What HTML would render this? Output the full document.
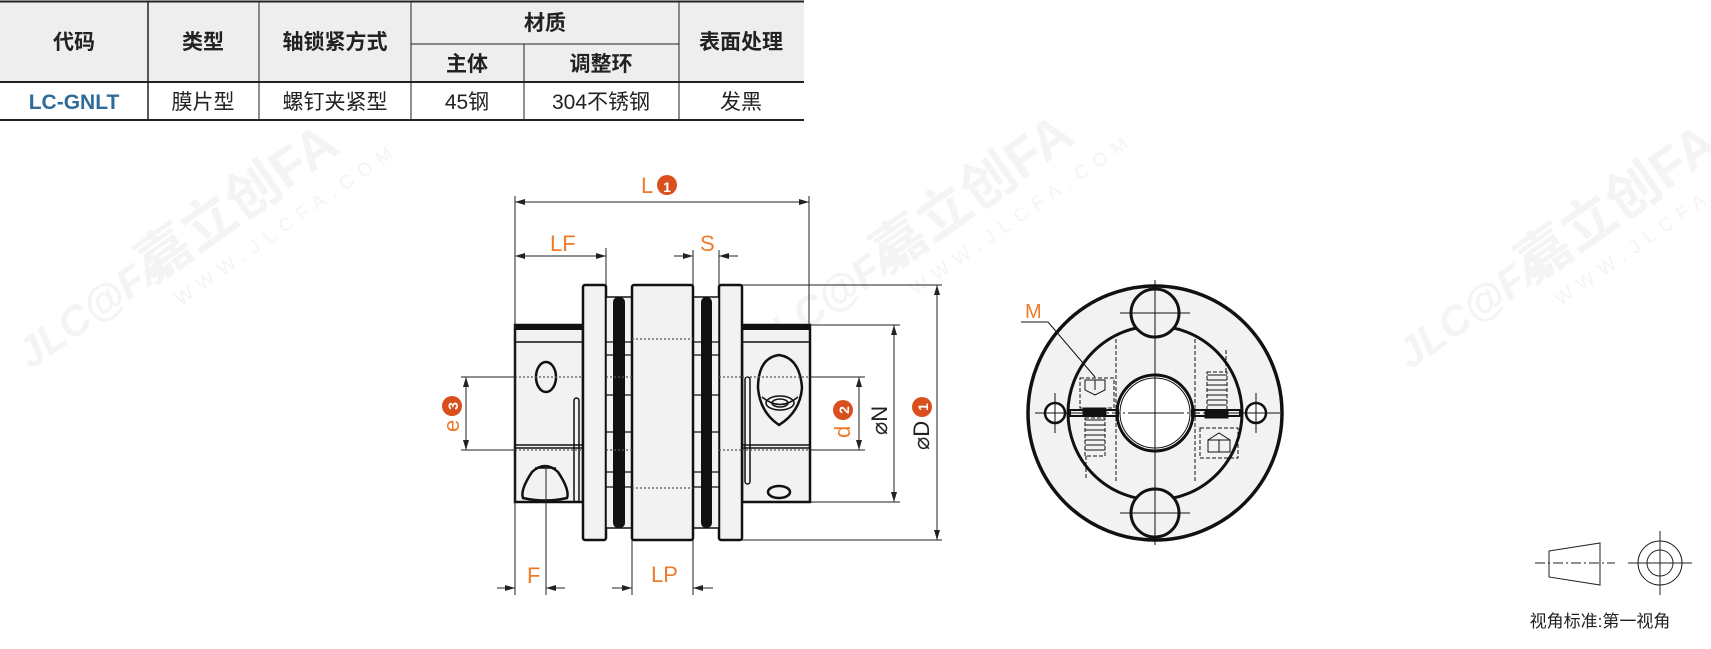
<!DOCTYPE html>
<html><head><meta charset="utf-8"><style>
html,body{margin:0;padding:0;background:#fff;width:1711px;height:649px;overflow:hidden}
svg{display:block}
.t{font-family:"Liberation Sans","Noto Sans CJK SC",sans-serif}
.o{fill:#ee7a2a;font-family:"Liberation Sans",sans-serif}
</style></head><body>
<svg width="1711" height="649" viewBox="0 0 1711 649" xmlns="http://www.w3.org/2000/svg">
<defs>
<marker id="a" viewBox="0 0 10 6" refX="10" refY="3" markerWidth="10" markerHeight="6" orient="auto-start-reverse" markerUnits="userSpaceOnUse"><path d="M0,0 L10,3 L0,6z" fill="#222"/></marker>
</defs>
<!-- watermarks -->
<g fill="#f4f4f4" class="t" font-weight="bold">
<g transform="translate(30,370) rotate(-35)"><text x="0" y="0" font-size="42" font-style="italic">JLC@FA</text><text x="150" y="0" font-size="54">嘉立创FA</text><text x="160" y="34" font-size="19" letter-spacing="8" font-weight="normal">WWW.JLCFA.COM</text></g>
<g transform="translate(765,360) rotate(-35)"><text x="0" y="0" font-size="42" font-style="italic">JLC@FA</text><text x="150" y="0" font-size="54">嘉立创FA</text><text x="160" y="34" font-size="19" letter-spacing="8" font-weight="normal">WWW.JLCFA.COM</text></g>
<g transform="translate(1410,370) rotate(-35)"><text x="0" y="0" font-size="42" font-style="italic">JLC@FA</text><text x="150" y="0" font-size="54">嘉立创FA</text><text x="160" y="34" font-size="19" letter-spacing="8" font-weight="normal">WWW.JLCFA.COM</text></g>
</g>
<!-- table -->
<rect x="0" y="1" width="804" height="81" fill="#eeeeee"/>
<g stroke="#222" fill="none">
<line x1="0" y1="1.5" x2="804" y2="1.5" stroke-width="2"/>
<line x1="0" y1="82" x2="804" y2="82" stroke-width="2"/>
<line x1="0" y1="120" x2="804" y2="120" stroke-width="2"/>
<line x1="411" y1="44" x2="679" y2="44" stroke-width="1"/>
<line x1="148" y1="1" x2="148" y2="120" stroke-width="1.5"/>
<line x1="259" y1="1" x2="259" y2="120" stroke-width="1"/>
<line x1="411" y1="1" x2="411" y2="120" stroke-width="1"/>
<line x1="524" y1="44" x2="524" y2="120" stroke-width="1"/>
<line x1="679" y1="1" x2="679" y2="120" stroke-width="1"/>
</g>
<g class="t" font-size="21" text-anchor="middle" fill="#222">
<g font-weight="bold">
<text x="74" y="49">代码</text><text x="203" y="49">类型</text><text x="335" y="49">轴锁紧方式</text>
<text x="545" y="30">材质</text><text x="467" y="71">主体</text><text x="601" y="71">调整环</text><text x="741" y="49">表面处理</text>
<text x="74" y="109" fill="#2f6c98">LC-GNLT</text>
</g>
<text x="203" y="109">膜片型</text><text x="335" y="109">螺钉夹紧型</text><text x="467" y="109">45钢</text><text x="601" y="109">304不锈钢</text><text x="741" y="109">发黑</text>
</g>
<!-- side view -->
<g stroke="#111" stroke-width="2.5" fill="#f2f2f2">
<rect x="515" y="325" width="68" height="177"/>
<rect x="742" y="325" width="68" height="177"/>
<rect x="583" y="285" width="23" height="255" rx="2"/>
<rect x="719" y="285" width="23" height="255" rx="2"/>
<rect x="606" y="297" width="26" height="231" stroke-width="1.5"/>
<rect x="693" y="297" width="26" height="231" stroke-width="1.5"/>
<rect x="632" y="285" width="61" height="255" rx="2"/>
</g>
<g fill="#111">
<rect x="613" y="297" width="12" height="231" rx="5"/>
<rect x="701" y="297" width="11" height="231" rx="5"/>
<rect x="515" y="325" width="68" height="5"/><rect x="742" y="325" width="68" height="5"/>
</g>
<g stroke="#111" stroke-width="1.5" fill="none">
<line x1="515" y1="342" x2="583" y2="342"/><line x1="742" y1="342" x2="810" y2="342"/>
<line x1="515" y1="445" x2="583" y2="445"/><line x1="515" y1="448" x2="583" y2="448"/>
<line x1="742" y1="445" x2="810" y2="445"/><line x1="742" y1="448" x2="810" y2="448"/>
<g stroke="#111" stroke-width="1.2">
<path d="M606 342H632M606 355H632M606 395H632M606 432H632M606 472H632M606 487H632"/>
<path d="M693 342H719M693 355H719M693 395H719M693 432H719M693 472H719M693 487H719"/>
</g>
<ellipse cx="546" cy="377" rx="10" ry="15" stroke-width="2.5"/>
<path d="M523 498 Q520 490 532 472 Q545 460 558 472 Q570 490 567 498 Q545 503 523 498Z" stroke-width="2.5"/>
<path d="M535 468 H556"/>
<rect x="574" y="398" width="5" height="104" rx="2.5"/>
<path d="M779 355 Q758 358 758 388 Q760 412 779 425 Q800 412 802 388 Q800 358 779 355Z" stroke-width="2.5"/>
<ellipse cx="780" cy="403" rx="14" ry="7"/><ellipse cx="780" cy="403" rx="8" ry="4"/>
<path d="M762 397 Q780 412 798 397"/>
<ellipse cx="779" cy="492" rx="11" ry="6" stroke-width="2.5"/>
<rect x="745" y="377" width="5" height="107" rx="2.5"/>
</g>
<g stroke="#555" stroke-width="1.2" stroke-dasharray="2,2">
<path d="M515 377H583M606 377H632M719 377H742M742 377H810M515 450H583M742 450H810M632 339H693M632 488H693M606 450H632M719 450H742"/>
</g>
<!-- dimension lines -->
<g stroke="#222" stroke-width="1" fill="none">
<line x1="515" y1="196" x2="515" y2="595"/>
<line x1="809" y1="196" x2="809" y2="325"/>
<line x1="606" y1="248" x2="606" y2="285"/>
<line x1="693" y1="250" x2="693" y2="285"/>
<line x1="719" y1="250" x2="719" y2="285"/>
<line x1="546" y1="465" x2="546" y2="595"/>
<line x1="632" y1="540" x2="632" y2="595"/>
<line x1="693" y1="540" x2="693" y2="595"/>
<line x1="515" y1="202" x2="809" y2="202" marker-start="url(#a)" marker-end="url(#a)"/>
<line x1="515" y1="256" x2="606" y2="256" marker-start="url(#a)" marker-end="url(#a)"/>
<line x1="674" y1="256" x2="693" y2="256" marker-end="url(#a)"/>
<line x1="738" y1="256" x2="719" y2="256" marker-end="url(#a)"/>
<line x1="497" y1="588" x2="515" y2="588" marker-end="url(#a)"/>
<line x1="565" y1="588" x2="546" y2="588" marker-end="url(#a)"/>
<line x1="612" y1="588" x2="632" y2="588" marker-end="url(#a)"/>
<line x1="713" y1="588" x2="693" y2="588" marker-end="url(#a)"/>
<line x1="742" y1="285" x2="942" y2="285"/>
<line x1="742" y1="540" x2="942" y2="540"/>
<line x1="937" y1="285" x2="937" y2="540" marker-start="url(#a)" marker-end="url(#a)"/>
<line x1="810" y1="325" x2="900" y2="325"/>
<line x1="810" y1="502" x2="900" y2="502"/>
<line x1="894" y1="325" x2="894" y2="502" marker-start="url(#a)" marker-end="url(#a)"/>
<line x1="810" y1="377" x2="865" y2="377"/>
<line x1="810" y1="450" x2="865" y2="450"/>
<line x1="859" y1="377" x2="859" y2="450" marker-start="url(#a)" marker-end="url(#a)"/>
<line x1="461" y1="377" x2="515" y2="377"/>
<line x1="461" y1="450" x2="515" y2="450"/>
<line x1="466" y1="377" x2="466" y2="450" marker-start="url(#a)" marker-end="url(#a)"/>
</g>
<!-- labels -->
<g font-size="22">
<text class="o" x="641" y="193">L</text><circle cx="667" cy="185" r="10" fill="#d9501e"/><text x="667" y="192" font-size="14" font-weight="bold" fill="#fff" text-anchor="middle" class="t">1</text>
<text class="o" x="550" y="251">LF</text>
<text class="o" x="700" y="251">S</text>
<text class="o" x="527" y="583">F</text>
<text class="o" x="651" y="582">LP</text>
<g transform="translate(459,414) rotate(-90)"><text class="o" x="-18" y="0">e</text><circle cx="8" cy="-7" r="10" fill="#d9501e"/><text x="8" y="-1" font-size="14" font-weight="bold" fill="#fff" text-anchor="middle" class="t">3</text></g>
<g transform="translate(850,418) rotate(-90)"><text class="o" x="-20" y="0">d</text><circle cx="8" cy="-7" r="10" fill="#d9501e"/><text x="8" y="-1" font-size="14" font-weight="bold" fill="#fff" text-anchor="middle" class="t">2</text></g>
<g transform="translate(887,417) rotate(-90)"><text x="-18" y="0" fill="#222" class="t">⌀N</text></g>
<g transform="translate(929,425) rotate(-90)"><text x="-25" y="0" fill="#222" class="t">⌀D</text><circle cx="18" cy="-7" r="10" fill="#d9501e"/><text x="18" y="-1" font-size="14" font-weight="bold" fill="#fff" text-anchor="middle" class="t">1</text></g>
</g>
<!-- end view -->
<g stroke="#111" fill="none">
<circle cx="1155" cy="413" r="127" fill="#f2f2f2" stroke-width="3.5"/>
<circle cx="1155" cy="413" r="87" stroke-width="3"/>
<circle cx="1155" cy="413" r="38" fill="#fff" stroke-width="3"/>
<circle cx="1155" cy="413" r="35" stroke-width="1"/>
<circle cx="1155" cy="313" r="24" fill="#f2f2f2" stroke-width="3"/>
<circle cx="1155" cy="513" r="24" fill="#f2f2f2" stroke-width="3"/>
<circle cx="1055" cy="413" r="10" fill="#fff" stroke-width="2.5"/>
<circle cx="1256" cy="413" r="10" fill="#fff" stroke-width="2.5"/>
<rect x="1070" y="410" width="48" height="6" stroke-width="2"/>
<rect x="1192" y="410" width="48" height="6" stroke-width="2"/>
<rect x="1083" y="408" width="23" height="8" fill="#111"/>
<rect x="1205" y="410" width="23" height="8" fill="#111"/>
<g stroke-width="1" stroke-dasharray="4,2">
<rect x="1085" y="418" width="20" height="38"/><rect x="1207" y="372" width="20" height="38"/>
<rect x="1080" y="378" width="34" height="30"/><rect x="1200" y="428" width="38" height="30"/>
<path d="M1116 339V482M1195 339V482M1086 456V480M1226 350V372"/>
</g>
<path d="M1085 420H1105M1085 425H1105M1085 430H1105M1085 435H1105M1085 440H1105M1085 445H1105M1085 450H1105M1207 375H1227M1207 380H1227M1207 385H1227M1207 390H1227M1207 395H1227M1207 400H1227M1207 405H1227" stroke-width="1"/>
<path d="M1085 380H1105V390L1095 395L1085 390Z M1095 380V390" stroke-width="1"/>
<path d="M1208 452V440H1230V452Z M1208 440L1219 433L1230 440 M1219 440V452" stroke-width="1"/>
<g stroke-width="1">
<path d="M1155 280V545M1120 313H1190M1120 513H1190M1132 413H1178M1155 390V436M1035 413H1080M1230 413H1276M1055 393V433M1256 393V433"/>
</g>
<path d="M1080 413H1280M1155 290V540" stroke-width="1" stroke-dasharray="8,3,2,3"/>
<path d="M1021 322H1048L1095 377" stroke-width="1"/>
</g>
<text class="o" x="1025" y="318" font-size="20">M</text>
<!-- projection symbol -->
<g stroke="#222" stroke-width="1" fill="none">
<path d="M1549 551L1600 543V585L1549 577Z"/>
<path d="M1535 563H1615" stroke-dasharray="10,3,2,3"/>
<circle cx="1660" cy="563" r="22"/><circle cx="1660" cy="563" r="13"/>
<path d="M1628 563H1692M1660 531V595"/>
</g>
<text class="t" x="1600" y="627" font-size="17" text-anchor="middle" fill="#222">视角标准:第一视角</text>
</svg>
</body></html>
